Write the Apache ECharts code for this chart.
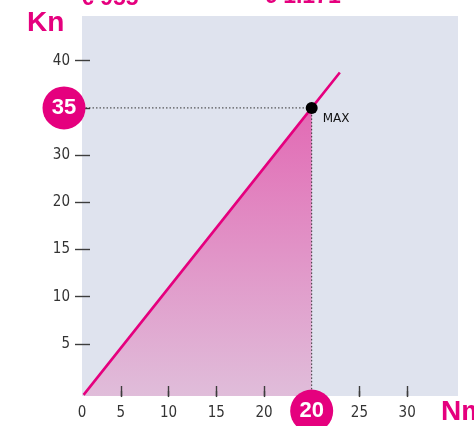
<!DOCTYPE html>
<html>
<head>
<meta charset="utf-8">
<style>
  html, body { margin: 0; padding: 0; background: #ffffff; }
  #chart { width: 474px; height: 426px; }
</style>
<script src="https://cdn.jsdelivr.net/npm/echarts@6/dist/echarts.min.js"></script>
</head>
<body>
<div id="chart"></div>
<script>
// Tick slots along each axis, one label per slot (index = slot position)
const xTickLabels = ['0', '5', '10', '15', '20', '20', '25', '30'];
const yTickLabels = ['', '5', '10', '15', '20', '30', '35', '40'];

// Peak operating point
const maxNm = 20;
const maxKn = 35;

// Characteristic line: start, (peak), end — in slot units
const lineStart = [0.22, -0.08];
const lineEnd = [5.59, 6.75];

// Price captions along the top edge
const priceLabels = ['€ 955', '€ 1.171'];

const PINK = '#e5007e';
const TICK = '#3d3d3d';
const LABEL_FONT = "'Liberation Sans Narrow', 'DejaVu Sans Condensed', 'Liberation Sans', sans-serif";

// Axis extents (slot units)
const xMin = 0.187, xMax = 8.066;
const yMin = -0.105, yMax = 7.948;
// how far the Nm ticks reach up into the plot (slot units)
const xTickInnerTop = 0.107;

// Slots of the peak on each axis (the highlighted entries)
const maxX = xTickLabels.lastIndexOf(String(maxNm));
const maxY = yTickLabels.indexOf(String(maxKn));
const peak = [maxX, maxY];

const xTickSlots = xTickLabels.map((_, i) => i).filter(i => i > 0 && i !== maxX);
const yTickSlots = yTickLabels.map((_, i) => i).filter(i => i > 0);
const yLabelSlots = yTickSlots.filter(i => i !== maxY);

const chart = echarts.init(document.getElementById('chart'), null, { renderer: 'canvas' });

const baseAxis = {
  type: 'value',
  axisLine: { show: false },
  splitLine: { show: false }
};

chart.setOption({
  animation: false,
  backgroundColor: '#ffffff',
  grid: {
    left: 82, top: 16, width: 376, height: 380,
    outerBoundsMode: 'none', containLabel: false,
    show: true, borderWidth: 0, backgroundColor: '#dfe3ee'
  },
  xAxis: [
    Object.assign({}, baseAxis, {
      position: 'bottom', z: 3,
      min: xMin, max: xMax,
      axisTick: { show: true, inside: false, length: 6, customValues: xTickSlots,
        lineStyle: { color: TICK, width: 1.4 } },
      axisLabel: {
        show: true, margin: 10,
        customValues: [xMin].concat(xTickSlots),
        formatter: v => xTickLabels[Math.round(v)],
        color: '#333333', fontSize: 15, fontFamily: LABEL_FONT
      }
    })
  ],
  yAxis: [
    Object.assign({}, baseAxis, {
      position: 'left', z: 3,
      min: yMin, max: yMax,
      axisTick: { show: true, inside: true, length: 8, customValues: yTickSlots,
        lineStyle: { color: TICK, width: 1.4 } },
      axisLabel: { show: false }
    }),
    Object.assign({}, baseAxis, {
      position: 'left',
      min: yMin, max: yMax,
      axisTick: { show: true, inside: false, length: 7, customValues: yTickSlots,
        lineStyle: { color: TICK, width: 1.4 } },
      axisLabel: {
        show: true, margin: 12,
        customValues: yLabelSlots,
        formatter: v => yTickLabels[Math.round(v)],
        color: '#333333', fontSize: 15, fontFamily: LABEL_FONT
      }
    })
  ],
  series: [
    {
      // shaded region under the rising segment up to the peak
      type: 'line',
      data: [lineStart, peak],
      symbol: 'none',
      lineStyle: { width: 0 },
      areaStyle: {
        origin: 'start',
        opacity: 1,
        color: new echarts.graphic.LinearGradient(0, 0, 0, 1, [
          { offset: 0, color: '#e26ab4' },
          { offset: 1, color: '#e0bdda' }
        ])
      },
      z: 2
    },
    {
      // inner part of the Nm ticks, drawn over the shading
      type: 'line',
      data: [],
      symbol: 'none',
      markLine: {
        silent: true,
        symbol: 'none',
        label: { show: false },
        lineStyle: { color: TICK, width: 1.4, type: 'solid' },
        data: xTickSlots.map(s => [{ coord: [s, yMin] }, { coord: [s, xTickInnerTop] }])
      },
      z: 3
    },
    {
      // guide from the Kn axis to the peak
      type: 'line',
      data: [[xMin, maxY], peak],
      symbol: 'none',
      lineStyle: { color: '#333333', width: 1, type: [1.5, 2] },
      z: 4
    },
    {
      // guide from the peak down to the Nm axis
      type: 'line',
      data: [peak, [maxX, yMin]],
      symbol: 'none',
      lineStyle: { color: '#333333', width: 1, type: [1.5, 2] },
      z: 4
    },
    {
      type: 'line',
      data: [lineStart, peak, lineEnd],
      symbol: 'none',
      lineStyle: { color: PINK, width: 2.6 },
      z: 5
    },
    {
      type: 'scatter',
      data: [peak],
      symbol: 'circle',
      symbolSize: 12,
      itemStyle: { color: '#000000', opacity: 1 },
      label: {
        show: true, position: 'right', distance: 5, offset: [0, 11],
        formatter: 'MAX', color: '#111111', fontSize: 12,
        fontFamily: "'DejaVu Sans', sans-serif"
      },
      z: 6
    },
    {
      // highlighted Kn value badge
      type: 'scatter',
      clip: false,
      data: [[xMin, maxY]],
      symbol: 'circle',
      symbolSize: 43,
      symbolOffset: [-18, 0],
      itemStyle: { color: PINK, opacity: 1 },
      label: {
        show: true, position: 'inside',
        formatter: () => String(maxKn),
        color: '#ffffff', fontSize: 22, fontWeight: 'bold',
        fontFamily: "'Liberation Sans', Arial, sans-serif"
      },
      z: 7
    },
    {
      // highlighted Nm value badge
      type: 'scatter',
      clip: false,
      data: [[maxX, yMin]],
      symbol: 'circle',
      symbolSize: 43,
      symbolOffset: [0, 15],
      itemStyle: { color: PINK, opacity: 1 },
      label: {
        show: true, position: 'inside',
        formatter: () => String(maxNm),
        color: '#ffffff', fontSize: 22, fontWeight: 'bold',
        fontFamily: "'Liberation Sans', Arial, sans-serif"
      },
      z: 7
    }
  ],
  graphic: [
    {
      type: 'text', left: 27, top: 9,
      style: { text: 'Kn', fill: PINK, fontSize: 28, fontWeight: 'bold',
        fontFamily: "'Liberation Sans', Arial, sans-serif" }
    },
    {
      type: 'text', left: 441, top: 398,
      style: { text: 'Nm', fill: PINK, fontSize: 28, fontWeight: 'bold',
        fontFamily: "'Liberation Sans', Arial, sans-serif" }
    },
    {
      type: 'text', left: 81, top: -13,
      style: { text: priceLabels[0], fill: PINK, fontSize: 23, fontWeight: 'bold',
        fontFamily: "'Liberation Sans', Arial, sans-serif" }
    },
    {
      type: 'text', left: 264, top: -15,
      style: { text: priceLabels[1], fill: PINK, fontSize: 23, fontWeight: 'bold',
        fontFamily: "'Liberation Sans', Arial, sans-serif" }
    }
  ]
});
</script>
</body>
</html>
